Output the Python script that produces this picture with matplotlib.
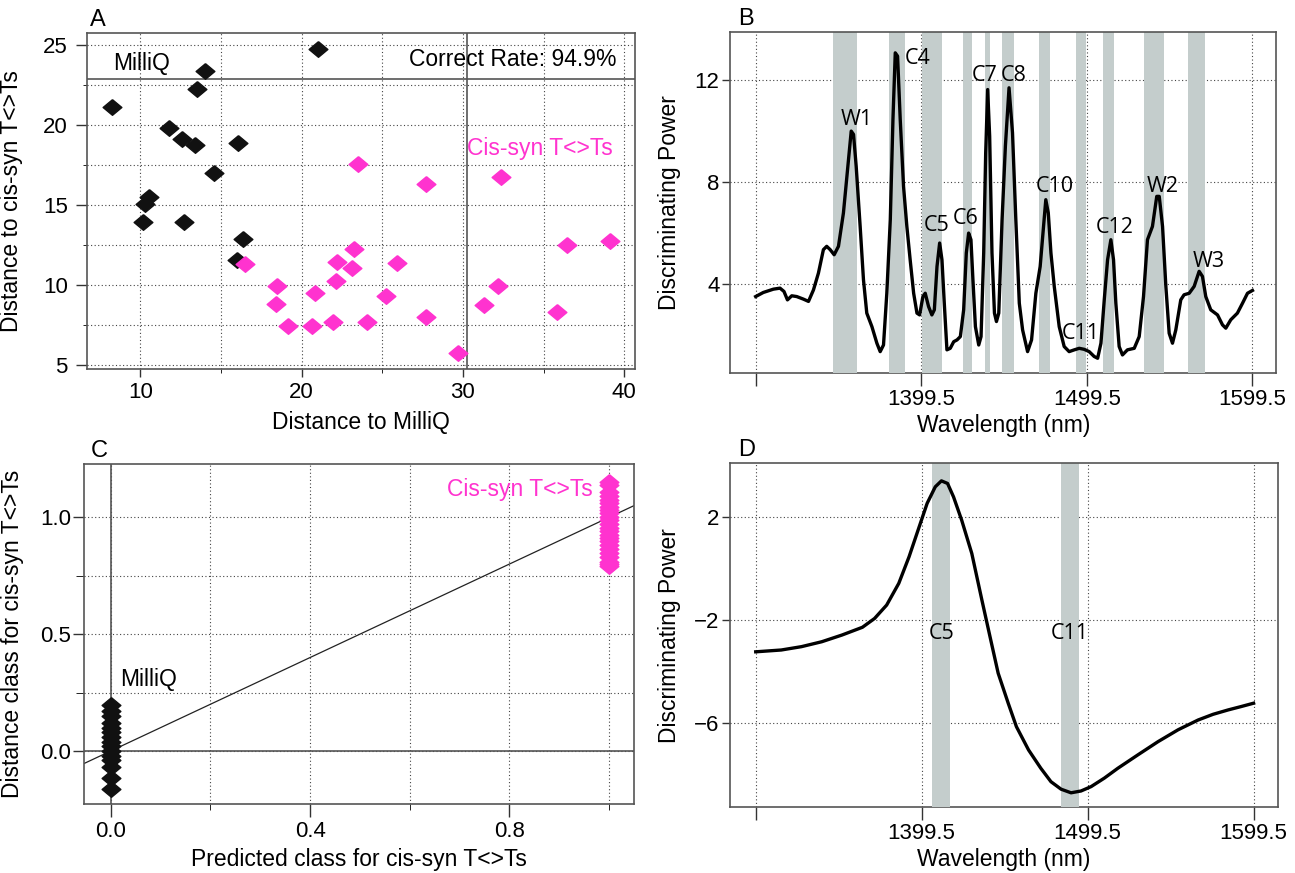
import matplotlib
matplotlib.use("Agg")
import matplotlib.pyplot as plt
from matplotlib.ticker import MultipleLocator

plt.rcParams["font.family"] = ["Liberation Sans", "DejaVu Sans"]

# ---- panel A: distances of each sample ----
milliq_dist_x = [21.01, 14.02, 13.50, 8.28, 11.80, 12.58, 13.37, 16.05, 14.59,
                 10.57, 10.31, 10.18, 12.74, 16.37, 15.97]
milliq_dist_y = [24.73, 23.38, 22.27, 21.13, 19.83, 19.10, 18.73, 18.85, 16.98,
                 15.48, 15.06, 13.92, 13.92, 12.90, 11.56]
cis_dist_x = [16.50, 23.51, 27.69, 32.36, 36.48, 39.14, 23.23, 22.18, 25.91, 23.13,
              22.11, 18.50, 32.15, 20.83, 25.24, 18.40, 31.29, 35.85, 27.69, 21.92,
              24.04, 19.16, 20.62, 29.70]
cis_dist_y = [11.31, 17.56, 16.29, 16.77, 12.52, 12.77, 12.23, 11.42, 11.38, 11.04,
              10.25, 9.96, 9.96, 9.48, 9.31, 8.81, 8.75, 8.29, 8.00, 7.67,
              7.67, 7.46, 7.46, 5.73]
threshold_milliq = 30.25
threshold_cis = 22.9

# ---- panel C: predicted vs distance class ----
milliq_pred = [0.0] * 15
milliq_class = [0.197, 0.17, 0.15, 0.12, 0.10, 0.08, 0.06, 0.04, 0.02, 0.0,
                -0.02, -0.04, -0.07, -0.117, -0.163]
cis_pred = [1.0] * 24
cis_class = [1.153, 1.14, 1.11, 1.09, 1.074, 1.06, 1.046, 1.03, 1.017, 1.0,
             0.989, 0.97, 0.953, 0.94, 0.924, 0.91, 0.90, 0.88, 0.865, 0.846,
             0.83, 0.81, 0.80, 0.792]

# ---- panel B: discriminating power spectrum ----
wl_b = [1299.5, 1304.1, 1310.2, 1314.2, 1316.6, 1318.7, 1321.3, 1324.3, 1328.3, 1331.4,
        1334.4, 1337.4, 1340.4, 1342.4, 1344.5, 1346.9, 1349.5, 1352.5, 1355.0, 1357.2,
        1358.6, 1360.2, 1362.6, 1364.6, 1366.6, 1369.7, 1372.7, 1374.7, 1376.7, 1378.7,
        1380.8, 1382.4, 1383.8, 1385.2, 1386.8, 1388.8, 1390.8, 1392.8, 1394.9, 1396.9,
        1398.5, 1400.5, 1401.9, 1403.9, 1405.9, 1407.4, 1409.0, 1410.6, 1412.0, 1413.4,
        1415.0, 1417.0, 1419.1, 1421.1, 1423.1, 1425.1, 1426.7, 1428.1, 1429.5, 1430.7,
        1432.2, 1434.2, 1435.6, 1437.2, 1438.4, 1439.6, 1440.8, 1442.2, 1443.7, 1444.9,
        1446.3, 1448.3, 1450.3, 1452.5, 1454.6, 1456.6, 1458.7, 1460.7, 1463.7, 1466.1,
        1468.7, 1471.3, 1473.3, 1474.7, 1476.2, 1477.8, 1479.8, 1482.8, 1485.8, 1488.8,
        1491.9, 1494.9, 1497.9, 1500.9, 1503.9, 1506.0, 1508.0, 1510.0, 1512.0, 1514.0,
        1515.6, 1517.0, 1519.0, 1521.0, 1524.0, 1528.1, 1531.1, 1533.7, 1536.1, 1539.1,
        1541.7, 1543.2, 1545.2, 1547.2, 1549.2, 1551.2, 1553.2, 1556.2, 1558.2, 1561.3,
        1564.3, 1567.3, 1569.3, 1571.3, 1574.3, 1578.4, 1581.4, 1583.4, 1586.4, 1590.4,
        1593.5, 1596.5, 1599.5]
power_b = [3.51, 3.67, 3.80, 3.84, 3.71, 3.38, 3.54, 3.51, 3.41, 3.32,
           3.77, 4.43, 5.35, 5.48, 5.35, 5.15, 5.48, 6.79, 8.49, 10.0,
           9.87, 8.62, 6.26, 4.17, 2.86, 2.33, 1.68, 1.35, 1.61, 3.64,
           6.53, 10.45, 13.07, 12.94, 10.45, 7.83, 6.26, 4.95, 3.64, 2.86,
           2.79, 3.51, 3.64, 3.12, 2.79, 2.99, 4.69, 5.61, 4.95, 3.25,
           1.42, 1.48, 1.74, 1.81, 1.94, 2.99, 5.22, 6.0, 5.74, 4.17,
           2.33, 1.61, 1.94, 5.22, 9.14, 11.63, 9.80, 5.22, 2.86, 2.53,
           2.86, 6.53, 9.41, 11.70, 9.93, 6.53, 3.25, 2.20, 1.35, 1.81,
           3.64, 4.69, 6.26, 7.31, 6.79, 5.22, 3.91, 2.33, 1.55, 1.35,
           1.42, 1.48, 1.44, 1.35, 1.16, 1.09, 1.68, 3.38, 4.95, 5.74,
           4.95, 3.25, 1.55, 1.22, 1.42, 1.48, 1.94, 3.51, 5.74, 6.26,
           7.44, 7.44, 6.26, 3.91, 2.07, 1.68, 2.20, 3.38, 3.58, 3.64,
           3.91, 4.50, 4.30, 3.51, 2.99, 2.79, 2.40, 2.27, 2.60, 2.86,
           3.25, 3.64, 3.75]
band_b_lo = [1346.1, 1380.0, 1400.2, 1425.0, 1437.7, 1448.2, 1470.3, 1493.0, 1509.1, 1534.1, 1560.4]
band_b_hi = [1360.4, 1389.7, 1412.2, 1430.4, 1441.1, 1455.6, 1477.2, 1499.0, 1515.7, 1545.9, 1570.9]
peak_names_b = ["W1", "C4", "C5", "C6", "C7", "C8", "C10", "C11", "C12", "W2", "W3"]
peak_nm_b = [1360.6, 1397.5, 1408.6, 1426.3, 1437.6, 1455.5, 1480.3, 1495.9, 1516.0, 1545.2, 1573.3]
peak_val_b = [10.45, 12.84, 6.29, 6.59, 12.18, 12.18, 7.83, 2.07, 6.20, 7.83, 4.89]

# ---- panel D: second discriminating power spectrum ----
wl_d = [1299.5, 1314.9, 1327.1, 1339.3, 1351.5, 1363.8, 1371.1, 1378.4, 1385.7, 1391.9,
        1398.0, 1402.8, 1407.7, 1411.4, 1415.1, 1418.7, 1423.6, 1429.7, 1435.8, 1440.7,
        1445.6, 1451.7, 1456.6, 1463.9, 1471.3, 1477.4, 1483.5, 1489.5, 1495.5, 1501.6,
        1509.6, 1517.7, 1529.8, 1541.9, 1554.0, 1566.1, 1575.1, 1584.2, 1592.0, 1599.5]
power_d = [-3.23, -3.16, -3.03, -2.84, -2.58, -2.28, -1.94, -1.42, -0.58, 0.45,
           1.61, 2.52, 3.16, 3.39, 3.29, 2.77, 1.87, 0.58, -1.23, -2.65,
           -4.06, -5.23, -6.13, -7.03, -7.74, -8.26, -8.55, -8.69, -8.62, -8.45,
           -8.12, -7.74, -7.22, -6.71, -6.25, -5.87, -5.65, -5.48, -5.35, -5.22]
band_d_lo = [1405.7, 1483.6]
band_d_hi = [1416.7, 1494.6]
peak_names_d = ["C5", "C11"]
peak_nm_d = [1411.4, 1488.6]
peak_val_d = [-2.52, -2.52]

wl_ticks = [1299.5, 1399.5, 1499.5, 1599.5]
wl_ticklabels = ["", "1399.5", "1499.5", "1599.5"]

PINK = "#FF33CF"
BAND = "#C4CDCC"
FRAME = "#555555"
DIAMOND = [(0, 1), (1.2, 0), (0, -1), (-1.2, 0), (0, 1)]
TICK_FS = 16
LABEL_FS = 16.5
GRID = dict(linestyle=(0, (1, 2.2)), color="#444444", linewidth=0.8)


def frame(ax):
    for sp in ax.spines.values():
        sp.set_color(FRAME)
        sp.set_linewidth(1.2)
    ax.tick_params(colors="#333333", labelcolor="black", labelsize=TICK_FS, width=1.0)


def panel_letter(ax, letter, x):
    ax.text(x, 1.006, letter, transform=ax.transAxes, fontsize=17, ha="left", va="bottom")


fig = plt.figure(figsize=(12.95, 8.73), dpi=100)

# A
ax = fig.add_axes([0.0673, 0.5773, 0.4231, 0.3852])
frame(ax)
ax.set_axisbelow(True)
ax.grid(which="both", **GRID)
ax.set_xlim(6.71, 40.67)
ax.set_ylim(4.75, 25.77)
ax.xaxis.set_major_locator(MultipleLocator(10))
ax.xaxis.set_minor_locator(MultipleLocator(5))
ax.yaxis.set_major_locator(MultipleLocator(5))
ax.yaxis.set_minor_locator(MultipleLocator(2.5))
ax.tick_params(axis="x", which="major", length=5.5, pad=4)
ax.tick_params(axis="y", which="major", length=8, pad=6)
ax.tick_params(which="minor", length=3)
ax.axhline(threshold_cis, color=FRAME, lw=1.2, zorder=2)
ax.axvline(threshold_milliq, color=FRAME, lw=1.2, zorder=2)
ax.plot(milliq_dist_x, milliq_dist_y, ls="none", marker=DIAMOND, ms=13.5, color="#111111", zorder=3)
ax.plot(cis_dist_x, cis_dist_y, ls="none", marker=DIAMOND, ms=13.5, color=PINK, zorder=3)
ax.text(8.35, 23.1, "MilliQ", fontsize=LABEL_FS, ha="left", va="bottom")
ax.text(39.55, 24.1, "Correct Rate: 94.9%", fontsize=LABEL_FS, ha="right", va="center")
ax.text(30.26, 18.54, "Cis-syn T<>Ts", fontsize=LABEL_FS, ha="left", va="center", color=PINK)
ax.set_xlabel("Distance to MilliQ", fontsize=LABEL_FS)
ax.set_ylabel("Distance to cis-syn T<>Ts", fontsize=LABEL_FS)
ax.xaxis.set_label_coords(0.5, -0.125)
ax.yaxis.set_label_coords(-0.117, 0.5)
panel_letter(ax, "A", 0.006)

# C
ax = fig.add_axes([0.0651, 0.0787, 0.4241, 0.3895])
frame(ax)
ax.set_axisbelow(True)
ax.grid(which="both", **GRID)
ax.set_xlim(-0.053, 1.049)
ax.set_ylim(-0.228, 1.227)
ax.xaxis.set_major_locator(MultipleLocator(0.4))
ax.xaxis.set_minor_locator(MultipleLocator(0.2))
ax.yaxis.set_major_locator(MultipleLocator(0.5))
ax.yaxis.set_minor_locator(MultipleLocator(0.25))
ax.tick_params(axis="x", which="major", length=9, pad=3)
ax.tick_params(axis="y", which="major", length=8, pad=1.5)
ax.tick_params(axis="x", which="minor", length=4)
ax.tick_params(axis="y", which="minor", length=6)
ax.axhline(0, color=FRAME, lw=1.2, zorder=2)
ax.axvline(0, color=FRAME, lw=1.2, zorder=2)
ax.axline((0, 0), slope=1, color="#222222", lw=0.9, zorder=2)
ax.plot(milliq_pred, milliq_class, ls="none", marker=DIAMOND, ms=13.5, color="#111111", zorder=3)
ax.plot(cis_pred, cis_class, ls="none", marker=DIAMOND, ms=13.5, color=PINK, zorder=3)
ax.text(0.019, 0.304, "MilliQ", fontsize=LABEL_FS, ha="left", va="center")
ax.text(0.967, 1.117, "Cis-syn T<>Ts", fontsize=LABEL_FS, ha="right", va="center", color=PINK)
ax.set_xlabel("Predicted class for cis-syn T<>Ts", fontsize=LABEL_FS)
ax.set_ylabel("Distance class for cis-syn T<>Ts", fontsize=LABEL_FS)
ax.xaxis.set_label_coords(0.5, -0.128)
ax.yaxis.set_label_coords(-0.110, 0.5)
panel_letter(ax, "C", 0.011)


def spectrum(ax, wl, power, lo, hi, names, nm, val, ylim, yticks, letter):
    frame(ax)
    ax.set_axisbelow(True)
    ax.grid(which="major", **GRID)
    for a, b in zip(lo, hi):
        ax.axvspan(a, b, color=BAND, lw=0, zorder=2.7)
    for side in ("top", "left", "right"):
        ax.spines[side].set_zorder(3)
    ax.plot(wl, power, color="black", lw=2.4, zorder=4)
    for name, x, y in zip(names, nm, val):
        ax.text(x, y, name, fontsize=15.5, ha="center", va="center",
                family=["Open Sans", "DejaVu Sans"], zorder=5)
    ax.set_xlim(1284.0, 1614.0)
    ax.set_ylim(*ylim)
    ax.set_xticks(wl_ticks)
    ax.set_xticklabels(wl_ticklabels)
    ax.set_yticks(yticks)
    ax.tick_params(axis="x", length=9.5, pad=1.5)
    ax.tick_params(axis="y", length=6, pad=1.5)
    ax.set_xlabel("Wavelength (nm)", fontsize=LABEL_FS)
    ax.set_ylabel("Discriminating Power", fontsize=LABEL_FS)
    ax.xaxis.set_label_coords(0.5, -0.118)
    ax.yaxis.set_label_coords(-0.089, 0.5)
    panel_letter(ax, letter, 0.015)


# B
ax = fig.add_axes([0.5637, 0.5724, 0.4220, 0.3913])
spectrum(ax, wl_b, power_b, band_b_lo, band_b_hi, peak_names_b, peak_nm_b, peak_val_b,
         (0.5, 13.9), [4, 8, 12], "B")

# D
ax = fig.add_axes([0.5637, 0.0753, 0.4229, 0.3940])
spectrum(ax, wl_d, power_d, band_d_lo, band_d_hi, peak_names_d, peak_nm_d, peak_val_d,
         (-9.25, 4.07), [-6, -2, 2], "D")

fig.savefig("out.png", dpi=100)
